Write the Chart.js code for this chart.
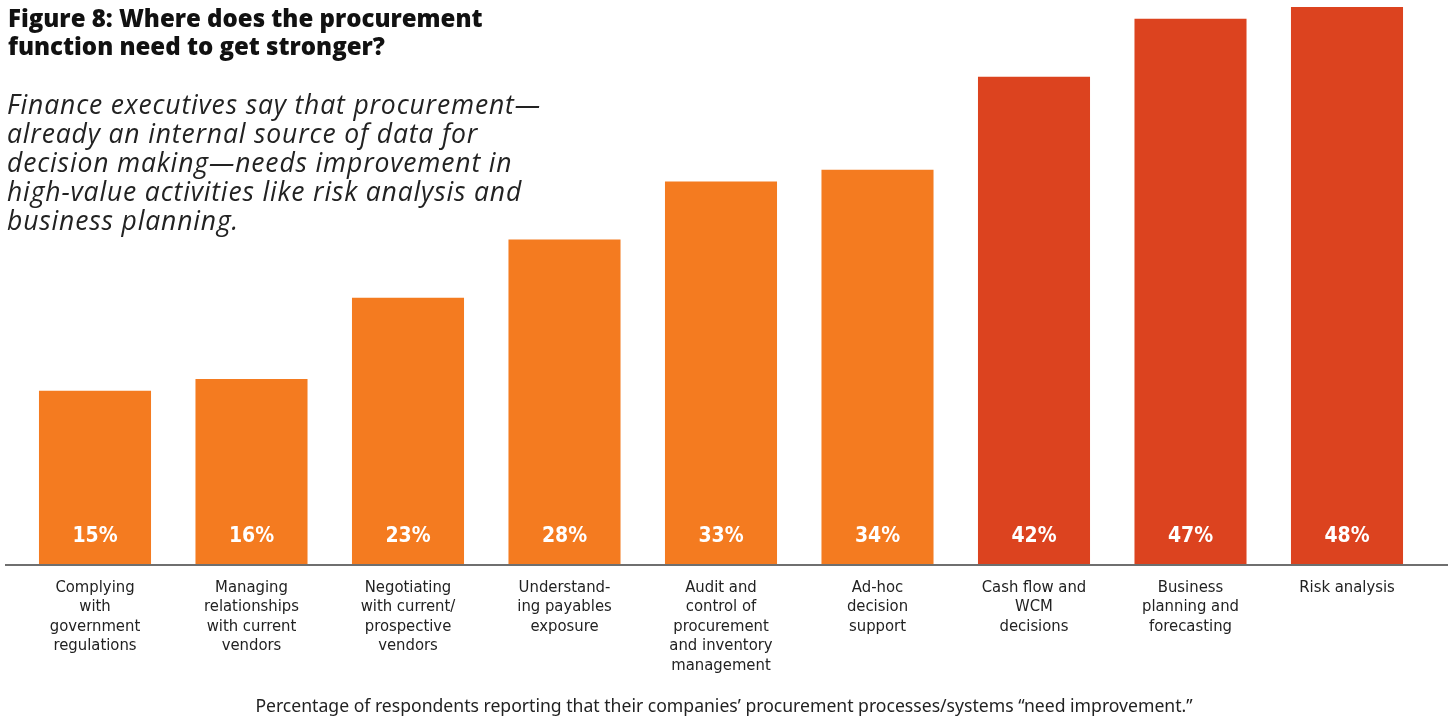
<!DOCTYPE html>
<html lang="en">
<head>
  <meta charset="UTF-8">
  <title>Figure 8: Where does the procurement function need to get stronger?</title>
  <script src="https://cdn.jsdelivr.net/npm/chart.js"></script>
  <style>
    html, body {
      margin: 0;
      padding: 0;
      background: #fff;
      overflow: hidden;
    }
    .wrap {
      position: relative;
      width: 1448px;
      height: 719px;
    }
    canvas {
      position: absolute;
      left: 0;
      top: 0;
    }
    .titulo {
      position: absolute;
      left: 8px;
      top: 4px;
      font-family: "Open Sans", sans-serif;
      font-weight: 800;
      font-size: 24px;
      line-height: 28px;
      letter-spacing: 0px;
      color: #111;
    }
    .sub {
      position: absolute;
      left: 7px;
      top: 90px;
      font-family: "Open Sans", sans-serif;
      font-style: italic;
      font-size: 26.5px;
      line-height: 29px;
      letter-spacing: 0.85px;
      color: #222;
    }
    .rodape {
      position: absolute;
      left: 0;
      width: 1448px;
      top: 693px;
      text-align: center;
      font-family: "Noto Sans", sans-serif;
      font-size: 17.6px;
      color: #222;
    }
  </style>
</head>
<body>
  <div class="wrap">
    <canvas id="grafico" width="1448" height="719"></canvas>
    <div class="titulo">Figure 8: Where does the procurement<br>function need to get stronger?</div>
    <div class="sub">Finance executives say that procurement—<br>already an internal source of data for<br>decision making—needs improvement in<br>high-value activities like risk analysis and<br>business planning.</div>
    <div class="rodape">Percentage of respondents reporting that their companies’ procurement processes/systems “need improvement.”</div>
  </div>

  <script>
    const categorias = [
      ['Complying', 'with', 'government', 'regulations'],
      ['Managing', 'relationships', 'with current', 'vendors'],
      ['Negotiating', 'with current/', 'prospective', 'vendors'],
      ['Understand-', 'ing payables', 'exposure'],
      ['Audit and', 'control of', 'procurement', 'and inventory', 'management'],
      ['Ad-hoc', 'decision', 'support'],
      ['Cash flow and', 'WCM', 'decisions'],
      ['Business', 'planning and', 'forecasting'],
      ['Risk analysis']
    ];
    const percentuais = [15, 16, 23, 28, 33, 34, 42, 47, 48];
    const destaque = [false, false, false, false, false, false, true, true, true];

    const LARANJA = '#f47b20';
    const VERMELHO = '#dc431f';
    const fonteNarrow = '"Liberation Sans Narrow", "DejaVu Sans Condensed", sans-serif';

    // linha de base cinza e rotulos dentro das barras
    const extras = {
      id: 'extras',
      afterDatasetsDraw(chart) {
        const ctx = chart.ctx;
        const y0 = chart.scales.y.getPixelForValue(0);
        ctx.save();
        ctx.strokeStyle = '#6f6f6f';
        ctx.lineWidth = 2;
        ctx.beginPath();
        ctx.moveTo(5, y0);
        ctx.lineTo(chart.width, y0);
        ctx.stroke();

        ctx.fillStyle = '#fff';
        ctx.font = 'bold 21px ' + fonteNarrow;
        ctx.textAlign = 'center';
        ctx.textBaseline = 'middle';
        chart.getDatasetMeta(0).data.forEach((bar, i) => {
          ctx.fillText(percentuais[i] + '%', bar.x, y0 - 28);
        });
        ctx.restore();
      }
    };

    new Chart(document.getElementById('grafico'), {
      type: 'bar',
      data: {
        labels: categorias,
        datasets: [{
          data: percentuais,
          backgroundColor: ctx => destaque[ctx.dataIndex] ? VERMELHO : LARANJA,
          barPercentage: 0.716,
          categoryPercentage: 1
        }]
      },
      options: {
        responsive: false,
        animation: false,
        layout: { padding: { left: 16.75, right: 22.75, top: 7, bottom: 0 } },
        plugins: {
          legend: { display: false },
          tooltip: { enabled: false }
        },
        scales: {
          x: {
            grid: { display: false },
            border: { display: false },
            afterFit: s => { s.height = 154; },
            ticks: {
              autoSkip: false,
              maxRotation: 0,
              padding: 5,
              color: '#222',
              font: { family: fonteNarrow, size: 16.5, lineHeight: 1.18 }
            }
          },
          y: {
            display: false,
            min: 0,
            max: 48
          }
        }
      },
      plugins: [extras]
    });
  </script>
</body>
</html>
